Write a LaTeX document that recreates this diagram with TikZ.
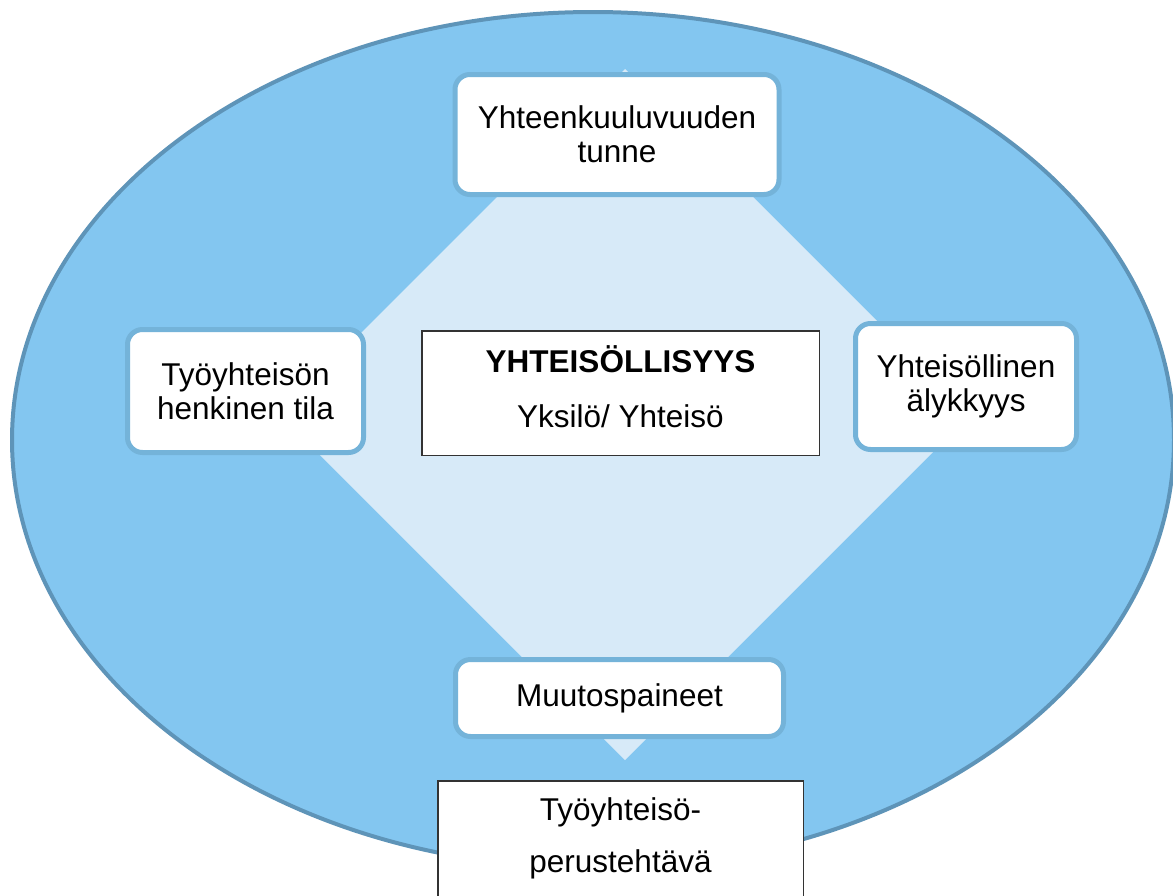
\documentclass[tikz,border=0pt]{standalone}
\usepackage{fontspec}
\setmainfont{Liberation Sans}
\definecolor{ellfill}{HTML}{83C6F0}
\definecolor{ellline}{HTML}{5E94B8}
\definecolor{diafill}{HTML}{D7EAF8}
\definecolor{boxline}{HTML}{74B3D9}
\definecolor{rectline}{HTML}{333333}
\begin{document}
\begin{tikzpicture}[x=1pt,y=-1pt,
  lbl/.style={font=\fontsize{31.5}{34}\selectfont, align=center},
  roundbox/.style={lbl, draw=boxline, line width=5pt, fill=white, rounded corners=15pt, inner sep=0pt},
  plainbox/.style={lbl, draw=rectline, line width=1.5pt, fill=white, inner sep=0pt}
]
\useasboundingbox (0,0) rectangle (1173,895);
% outer ellipse
\draw[fill=ellfill, draw=ellline, line width=4pt] (593,440) ellipse [x radius=581, y radius=428];
% inner diamond
\fill[diafill] (625,69) -- (970.5,414.5) -- (625,760) -- (279.5,414.5) -- cycle;
% centre rectangle
\node[plainbox, minimum width=397.5pt, minimum height=124.5pt, text height=80pt, text depth=12pt] (core) at (620.5,393)
  {\textbf{YHTEISÖLLISYYS}\\[21pt]Yksilö/ Yhteisö};
% four rounded boxes
\node[roundbox, minimum width=324pt, minimum height=120pt] (top) at (617,134.5) {Yhteenkuuluvuuden\\tunne};
\node[roundbox, minimum width=236pt, minimum height=123pt] (left) at (245.5,391) {Työyhteisön\\henkinen tila};
\node[roundbox, minimum width=221pt, minimum height=126pt] (right) at (966,386.5) {Yhteisöllinen\\älykkyys};
\node[roundbox, minimum width=328pt, minimum height=77pt] (bottom) at (619.5,698) {Muutospaineet};
% bottom rectangle
\node[plainbox, minimum width=365.5pt, minimum height=158.5pt, text height=77pt, text depth=53pt] (task) at (620.5,860)
  {Työyhteisö-\\[18pt]perustehtävä};
\end{tikzpicture}
\end{document}
